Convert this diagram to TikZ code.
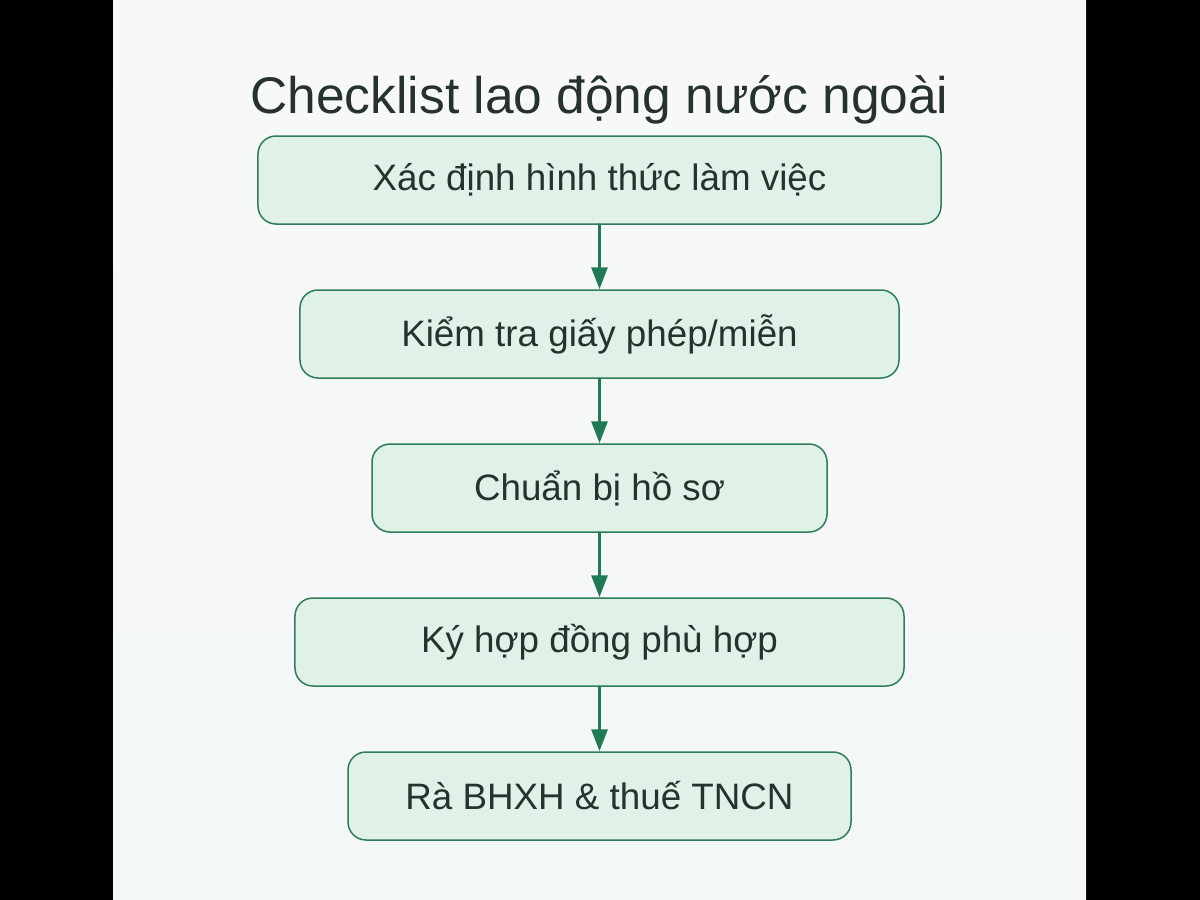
\documentclass[tikz,border=0pt]{standalone}
\usepackage{fontspec}
\setmainfont{Liberation Sans}
\usetikzlibrary{arrows.meta,positioning}

\definecolor{boxfill}{HTML}{E0F2E8}
\definecolor{boxline}{HTML}{2E7D5B}
\definecolor{arrowcol}{HTML}{1F7A55}
\definecolor{textcol}{HTML}{263230}
\definecolor{bgtop}{HTML}{F8F8F8}
\definecolor{bgbot}{HTML}{F3F7F8}

\begin{document}
\begin{tikzpicture}[x=1bp,y=-1bp,line cap=round]

      \useasboundingbox (0,0) rectangle (1200,900);
      \fill[black] (0,0) rectangle (113,900);
      \fill[black] (1086,0) rectangle (1200,900);
      \shade[top color=bgtop,bottom color=bgbot] (113,0) rectangle (1086,900);

      \node[text=textcol, font=\fontsize{51.7}{60}\selectfont] (title) at (599.5,100) {Checklist lao động nước ngoài};

      \tikzstyle{stepbox}=[draw=boxline, fill=boxfill, line width=1.5bp, rounded corners=18bp, minimum height=88bp, inner sep=0pt, text=textcol, font=\fontsize{36.9}{44}\selectfont];
      \node[stepbox, minimum width=683bp] (hinhthuc) at (599.5,180) {Xác định hình thức làm việc};
      \node[stepbox, minimum width=599bp] (giayphep) at (599.5,334) {Kiểm tra giấy phép/miễn};
      \node[stepbox, minimum width=455bp] (hoso)     at (599.5,488) {Chuẩn bị hồ sơ};
      \node[stepbox, minimum width=609bp] (hopdong)  at (599.5,642) {Ký hợp đồng phù hợp};
      \node[stepbox, minimum width=503bp] (bhxh)     at (599.5,796) {Rà BHXH \& thuế TNCN};

      \tikzstyle{flow}=[line width=3bp, draw=arrowcol, -{Triangle[length=22bp,width=16bp,fill=arrowcol]}];
      \draw[flow] (hinhthuc.south) -- (giayphep.north);
      \draw[flow] (giayphep.south) -- (hoso.north);
      \draw[flow] (hoso.south)     -- (hopdong.north);
      \draw[flow] (hopdong.south)  -- (bhxh.north);

\end{tikzpicture}
\end{document}
